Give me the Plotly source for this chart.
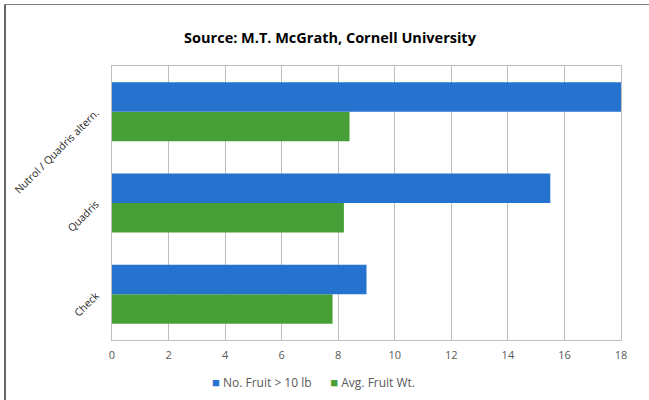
import plotly.graph_objects as go

categories = ["Check", "Quadris", "Nutrol / Quadris altern."]
no_fruit_10lb = [9.0, 15.5, 18.0]
avg_fruit_wt = [7.8, 8.2, 8.4]
x_ticks = [0, 2, 4, 6, 8, 10, 12, 14, 16, 18]
series_names = ["No. Fruit > 10 lb", "Avg. Fruit Wt."]
series_colors = ["#2672cf", "#47a037"]

fig = go.Figure()
fig.add_trace(go.Bar(
    y=categories, x=avg_fruit_wt, orientation="h", name=series_names[1],
    marker=dict(color=series_colors[1], line=dict(width=0)), showlegend=False,
))
fig.add_trace(go.Bar(
    y=categories, x=no_fruit_10lb, orientation="h", name=series_names[0],
    marker=dict(color=series_colors[0], line=dict(width=0)), showlegend=False,
))

W, H = 649, 400
L, R, T, B = 112, 28, 66, 60
pw, ph = W - L - R, H - T - B
def px(x):
    return (x - L) / pw
def py(y):
    return 1 - (y - T) / ph

legend_text = (
    f"<span style='color:{series_colors[0]};font-size:13px'>■</span> {series_names[0]}"
    f"      <span style='color:{series_colors[1]};font-size:13px'>■</span> {series_names[1]}"
)

fig.update_layout(
    width=W, height=H,
    margin=dict(l=L, r=R, t=T, b=B, autoexpand=False),
    paper_bgcolor="white", plot_bgcolor="white",
    barmode="group", bargap=0.354, bargroupgap=0,
    title=dict(text="<b>Source: M.T. McGrath, Cornell University</b>",
               x=px(330), xref="paper", xanchor="center",
               y=1 - 38 / H, yref="container", yanchor="middle", automargin=False,
               font=dict(family="Open Sans", size=14.5, color="#000000")),
    font=dict(family="Open Sans", color="#595959"),
    showlegend=False,
    annotations=[dict(text=legend_text, xref="paper", yref="paper",
                      x=px(313), y=py(382), xanchor="center", yanchor="middle",
                      showarrow=False, font=dict(size=12, color="#595959"))],
    xaxis=dict(range=[0, 18], tickvals=x_ticks, showgrid=True, gridcolor="#bfbfbf",
               gridwidth=1, showline=True, linecolor="#bfbfbf", mirror=True,
               zeroline=False, ticks="", tickfont=dict(size=11, color="#595959"),
               ticklabelstandoff=5, automargin=False),
    yaxis=dict(type="category", categoryorder="array", categoryarray=categories,
               tickangle=-45, showgrid=False, showline=True, linecolor="#bfbfbf",
               mirror=True, ticks="", tickfont=dict(size=10.5, color="#262626"),
               ticklabelstandoff=13, automargin=False),
    shapes=[
        dict(type="line", xref="paper", yref="paper", x0=px(5), x1=px(W), y0=py(4.5), y1=py(4.5),
             line=dict(color="#808080", width=1)),
        dict(type="line", xref="paper", yref="paper", x0=px(5), x1=px(5), y0=py(4.5), y1=py(H),
             line=dict(color="#333333", width=1.5)),
    ],
)

fig.write_html("out.html", config={"displayModeBar": False},
               post_script="document.body.style.margin='0';")
